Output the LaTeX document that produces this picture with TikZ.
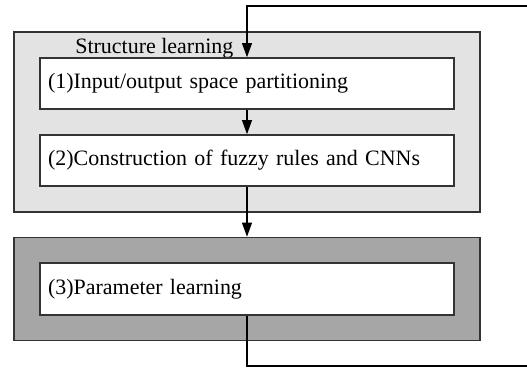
\documentclass[tikz,border=0pt]{standalone}
\usepackage{fontspec}
\setmainfont{Liberation Serif}
\usetikzlibrary{arrows.meta}
\definecolor{lightgroup}{HTML}{E3E3E3}
\definecolor{darkgroup}{HTML}{A6A6A6}
\definecolor{edgegray}{HTML}{333333}
\tikzset{
  group/.style={draw=edgegray, line width=0.9pt, minimum width=9.32cm, inner sep=0pt},
  stepbox/.style={draw=edgegray, line width=0.9pt, fill=white, minimum width=8.28cm,
    text width=7.96cm, inner xsep=0.16cm, align=left, font=\fontsize{12.5}{15}\selectfont},
  flow/.style={draw=black, line width=0.8pt, -{Triangle[width=5.6pt,length=8pt]}}
}
\begin{document}
\begin{tikzpicture}[x=0.02cm, y=-0.02cm]
\useasboundingbox (0,0) rectangle (527,370);
\clip (0,0) rectangle (527,370);

% Grupo de aprendizaje estructural
\node[group, fill=lightgroup, minimum height=3.6cm] (structure) at (247,122) {};
\node[anchor=base west, inner sep=0pt, font=\fontsize{12.5}{15}\selectfont] (structlabel) at (75,53) {Structure learning};
\node[stepbox, minimum height=1.02cm] (partition) at (247,83.5) {(1)Input/output space partitioning};
\node[stepbox, minimum height=1.02cm] (rules) at (247,160.5) {(2)Construction of fuzzy rules and CNNs};

% Grupo de aprendizaje de parametros
\node[group, fill=darkgroup, minimum height=2.06cm] (paramgroup) at (247,289) {};
\node[stepbox, minimum height=1.04cm] (param) at (247,289) {(3)Parameter learning};

% Flechas
\draw[flow] (partition.south) -- (rules.north);
\draw[flow] (rules.south) -- (paramgroup.north);

% Realimentacion
\coordinate (fbbot) at (540,366);
\coordinate (fbtop) at (540,6);
\draw[flow] (param.south) |- (fbbot) -- (fbtop) -| (partition.north);
\end{tikzpicture}
\end{document}
